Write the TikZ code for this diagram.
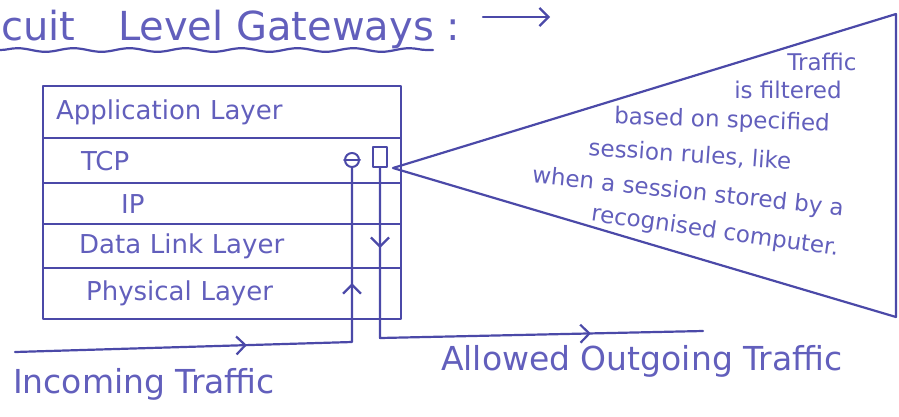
\documentclass[tikz,border=0pt]{standalone}
\usepackage{fontspec}
\setmainfont{DejaVu Sans}
\usetikzlibrary{arrows.meta,decorations.pathmorphing,decorations.markings}
\definecolor{ink}{HTML}{4B49A8}
\definecolor{penink}{HTML}{625FBC}
\tikzset{
  sketch/.style={color=ink, text=penink, line width=2.2pt,
    line cap=round, line join=round},
  title/.style={font=\fontsize{40}{44}\selectfont, inner sep=0pt},
  layer/.style={draw=ink, line width=2.2pt, text width=358pt, inner xsep=0pt,
    inner ysep=0pt, align=left, anchor=north west,
    font=\fontsize{26}{30}\selectfont},
  note/.style={font=\fontsize{23}{27}\selectfont, inner sep=0pt},
  caption/.style={font=\fontsize{33}{38}\selectfont, inner sep=0pt,
    anchor=base west},
  gatecirc/.style={circle, draw=ink, line width=2pt, minimum size=14pt,
    inner sep=0pt},
  gatesq/.style={rectangle, draw=ink, line width=2pt, minimum width=14pt,
    minimum height=20pt, inner sep=0pt},
  flowmarks/.style 2 args={postaction={decorate},
    decoration={markings, mark=at position #1 with {\arrow{>}},
      mark=at position #2 with {\arrow{>}}}},
}
\begin{document}
\begin{tikzpicture}[sketch, x=1pt, y=1pt,
    >={Straight Barb[length=9pt,width=18pt]}]
  \path[use as bounding box] (0,0) rectangle (899,-416);
  \clip (0,0) rectangle (899,-416);

  % ---------------- heading (its start is cut off by the page) ----------------
  \node[title,anchor=base west] (titleA) at (0,-40) {cuit};
  \node[title,anchor=base west] (titleB) at (117,-40) {Level Gateways :};
  \coordinate (ulStart) at (0,-50);
  \coordinate (ulEnd) at (433,-50);
  \draw[decorate,decoration={snake,segment length=56pt,amplitude=1.8pt}]
    (ulStart) -- (ulEnd);
  \coordinate (arrowStart) at (483,-17);
  \coordinate (arrowEnd) at (550,-17);
  \draw[->] (arrowStart) -- (arrowEnd);

  % ---------------- protocol stack ----------------
  \node[layer,minimum height=52pt] (app) at (42,-85)
    {\hspace*{13pt}Application Layer};
  \node[layer,minimum height=45pt] (tcp) at (42,-137) {\hspace*{38pt}TCP};
  \node[layer,minimum height=41pt] (ip) at (42,-182) {\hspace*{78pt}IP};
  \node[layer,minimum height=44pt] (dlink) at (42,-223)
    {\hspace*{36pt}Data Link Layer};
  \node[layer,minimum height=51pt] (phys) at (42,-267)
    {\hspace*{43pt}Physical Layer};

  % gateway ends at the TCP layer
  \node[gatecirc] (gateIn) at (352,-160) {};
  \draw[line width=2pt] (gateIn.west) -- (gateIn.east);
  \node[gatesq] (gateOut) at (380,-157) {};

  % traffic in and out
  \coordinate (inStart) at (15,-352);
  \coordinate (inBend) at (352,-342);
  \draw[flowmarks={232pt}{396pt}] (inStart) -- (inBend) -- (gateIn.south);
  \coordinate (outBend) at (380,-338);
  \coordinate (outEnd) at (703,-331);
  \draw[flowmarks={80pt}{381pt}] (gateOut.south) -- (outBend) -- (outEnd);

  % ---------------- callout ----------------
  \coordinate (tip) at (393,-168);
  \coordinate (calloutTop) at (896,-14);
  \coordinate (calloutBot) at (896,-317);
  \draw (tip) -- (calloutTop) -- (calloutBot) -- cycle;
  \node[note] (note1) at (822,-62) {Traffic};
  \node[note] (note2) at (788,-90) {is filtered};
  \node[note,rotate=-2] (note3) at (722,-121) {based on specified};
  \node[note,rotate=-4] (note4) at (690,-155) {session rules, like};
  \node[note,rotate=-6] (note5) at (688,-193) {when a session stored by a};
  \node[note,rotate=-8] (note6) at (715,-232) {recognised computer.};

  % ---------------- captions ----------------
  \node[caption] (inLabel) at (12,-393) {Incoming Traffic};
  \node[caption] (outLabel) at (440,-370) {Allowed Outgoing Traffic};
\end{tikzpicture}
\end{document}
